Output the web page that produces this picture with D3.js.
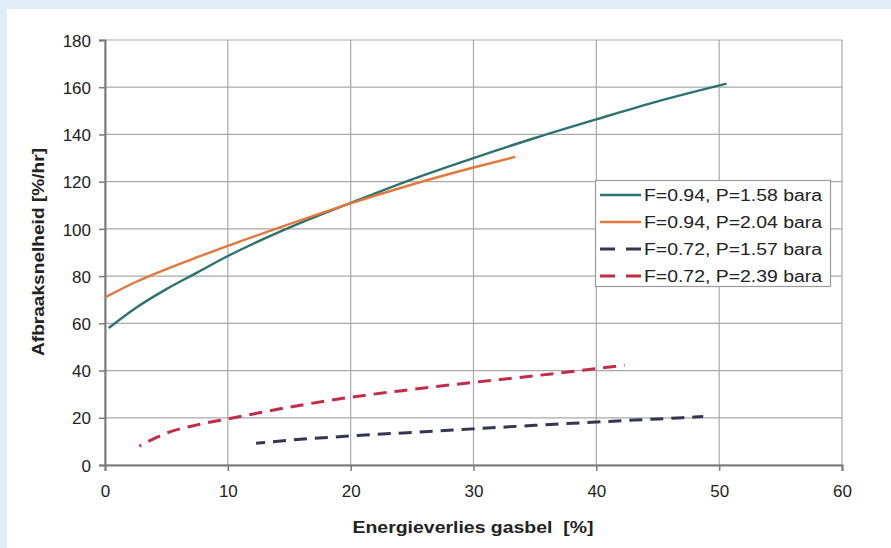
<!DOCTYPE html>
<html><head><meta charset="utf-8">
<script src="https://cdn.jsdelivr.net/npm/d3@7"></script>
<style>html,body{margin:0;padding:0;background:#dfedf9;}svg{display:block;}text{white-space:pre;}</style>
</head><body><svg id="c" width="891" height="548"></svg>
<script>
const xTicks = [0, 10, 20, 30, 40, 50, 60];
const yTicks = [0, 20, 40, 60, 80, 100, 120, 140, 160, 180];
const seriesNames = ["F=0.94, P=1.58 bara", "F=0.94, P=2.04 bara", "F=0.72, P=1.57 bara", "F=0.72, P=2.39 bara"];
const seriesColors = ["#2c7370", "#e4783c", "#34354f", "#c42a4a"];
const seriesDashed = [false, false, true, true];
const seriesDashOffset = [0, 0, 4, 11];
const s1 = [[0.3,58],[2.5,66.5],[5,74.5],[7.5,81.5],[10,88.5],[15,100.5],[20,111],[25,121],[30,130],[35,138.5],[40,146.4],[45,154],[50.6,161.5]];
const s2 = [[0,71],[2.5,77.5],[5,83],[7.5,88],[10,92.8],[15,102],[20,110.8],[25,118.8],[30,126],[33.4,130.5]];
const s3 = [[12.3,9.2],[15,10.5],[20,12.3],[25,13.8],[30,15.3],[35,16.8],[40,18.2],[45,19.5],[48.7,20.5]];
const s4 = [[2.8,8],[5,13.5],[7.5,17],[10,19.5],[15,24.5],[20,28.7],[25,32],[30,35],[35,37.8],[40,40.8],[42.3,42.3]];
const seriesData = [s1, s2, s3, s4];

const svg = d3.select("#c");
svg.append("rect").attr("x",7).attr("y",9).attr("width",884).attr("height",539).attr("fill","#ffffff");

const x = d3.scaleLinear().domain([0,60]).range([105,842]);
const y = d3.scaleLinear().domain([0,180]).range([465,40]);
const font = "Liberation Sans, Arial, sans-serif";

// grid
svg.append("g").selectAll("line").data(yTicks).join("line")
  .attr("x1",x(0)).attr("x2",x(60)).attr("y1",d=>y(d)).attr("y2",d=>y(d))
  .attr("stroke","#a9a9a9").attr("stroke-width",1.2);
svg.append("g").selectAll("line").data(xTicks).join("line")
  .attr("y1",y(0)).attr("y2",y(180)).attr("x1",d=>x(d)).attr("x2",d=>x(d))
  .attr("stroke","#a9a9a9").attr("stroke-width",1.2);

// axes
const yAxis = d3.axisLeft(y).tickValues(yTicks).tickSize(6).tickPadding(8).tickFormat(d3.format("d"));
const gy = svg.append("g").attr("transform",`translate(${x(0)},0)`).call(yAxis);
const xAxis = d3.axisBottom(x).tickValues(xTicks).tickSize(6).tickPadding(14).tickFormat(d3.format("d"));
const gx = svg.append("g").attr("transform",`translate(0,${y(0)})`).call(xAxis);
[gx,gy].forEach(g=>{
  g.select(".domain").attr("stroke","#7a7a7a").attr("stroke-width",2);
  g.selectAll(".tick line").attr("stroke","#7a7a7a").attr("stroke-width",1.5);
  g.selectAll("text").attr("font-family",font).attr("font-size",17).attr("fill","#222");
});
gy.selectAll("text").attr("dy","0.36em");

// lines
const line = d3.line().x(d=>x(d[0])).y(d=>y(d[1])).curve(d3.curveMonotoneX);
seriesData.forEach((data,i)=>{
  svg.append("path").datum(data).attr("d",line).attr("fill","none")
    .attr("stroke",seriesColors[i]).attr("stroke-width",seriesDashed[i]?3:2.4)
    .attr("stroke-dasharray",seriesDashed[i]?"13,8":null)
    .attr("stroke-dashoffset",seriesDashOffset[i])
    .attr("stroke-linecap","butt");
});

// legend
const lg = svg.append("g");
lg.append("rect").attr("x",595.5).attr("y",180.5).attr("width",235).attr("height",106)
  .attr("fill","#ffffff").attr("stroke","#9a9a9a").attr("stroke-width",1.2);
seriesNames.forEach((n,i)=>{
  const cy = 195 + i*27;
  lg.append("line").attr("x1",600).attr("x2",641).attr("y1",cy).attr("y2",cy)
    .attr("stroke",seriesColors[i]).attr("stroke-width",seriesDashed[i]?3:2.4)
    .attr("stroke-dasharray",seriesDashed[i]?"15,11":null);
  lg.append("text").attr("x",644).attr("y",cy).attr("dy","0.36em")
    .attr("font-family",font).attr("font-size",16).attr("fill","#222")
    .attr("textLength",178).attr("lengthAdjust","spacingAndGlyphs").text(n);
});

// titles
svg.append("text").attr("x",473).attr("y",533).attr("text-anchor","middle")
  .attr("font-family",font).attr("font-weight","bold").attr("font-size",17).attr("fill","#222")
  .attr("xml:space","preserve")
  .attr("textLength",241).attr("lengthAdjust","spacingAndGlyphs")
  .text("Energieverlies gasbel  [%]");
svg.append("text").attr("transform","translate(44,252) rotate(-90)").attr("text-anchor","middle")
  .attr("font-family",font).attr("font-weight","bold").attr("font-size",17).attr("fill","#222")
  .attr("textLength",208).attr("lengthAdjust","spacingAndGlyphs")
  .text("Afbraaksnelheid [%/hr]");
</script></body></html>
